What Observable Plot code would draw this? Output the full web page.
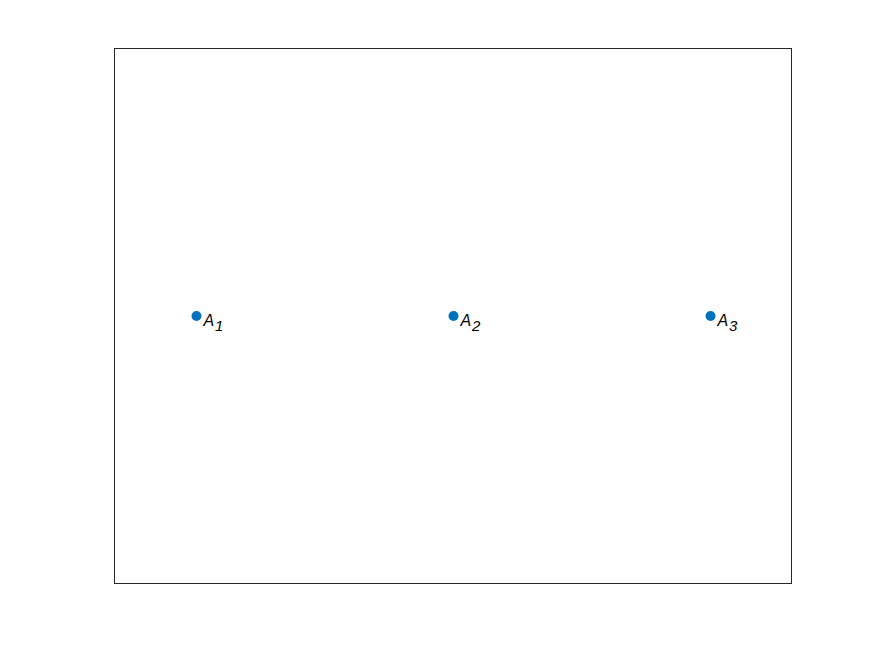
<!DOCTYPE html>
<html>
<head>
<meta charset="utf-8">
<script src="https://cdn.jsdelivr.net/npm/d3@7"></script>
<script src="https://cdn.jsdelivr.net/npm/@observablehq/plot@0.6"></script>
<style>
  html, body { margin: 0; padding: 0; background: #fff; }
  #chart svg { display: block; }
</style>
</head>
<body>
<div id="chart"></div>
<script>
const xs = [1, 2, 3];
const ys = [0, 0, 0];
const mainLabels = ["A", "A", "A"];
const subLabels = ["1", "2", "3"];

const data = xs.map((x, i) => ({x, y: ys[i], main: mainLabels[i], sub: subLabels[i]}));

const chart = Plot.plot({
  width: 875,
  height: 656,
  marginLeft: 114,
  marginRight: 84,
  marginTop: 48,
  marginBottom: 73,
  x: {domain: [0.681, 3.315], axis: null},
  y: {domain: [-1, 1], axis: null},
  style: {background: "#fff", fontFamily: "'Liberation Sans', Arial, sans-serif"},
  marks: [
    Plot.frame({stroke: "#262626", strokeWidth: 1}),
    Plot.dot(data, {x: "x", y: "y", r: 5, fill: "#0072BD", stroke: null}),
    Plot.text(data, {x: "x", y: "y", text: "main", textAnchor: "start", lineAnchor: "middle",
      dx: 7, dy: 5, fontSize: 16, fontStyle: "italic", fill: "#000"}),
    Plot.text(data, {x: "x", y: "y", text: "sub", textAnchor: "start", lineAnchor: "middle",
      dx: 18.5, dy: 10, fontSize: 15, fontStyle: "italic", fill: "#000"})
  ]
});
document.getElementById("chart").appendChild(chart);
</script>
</body>
</html>
